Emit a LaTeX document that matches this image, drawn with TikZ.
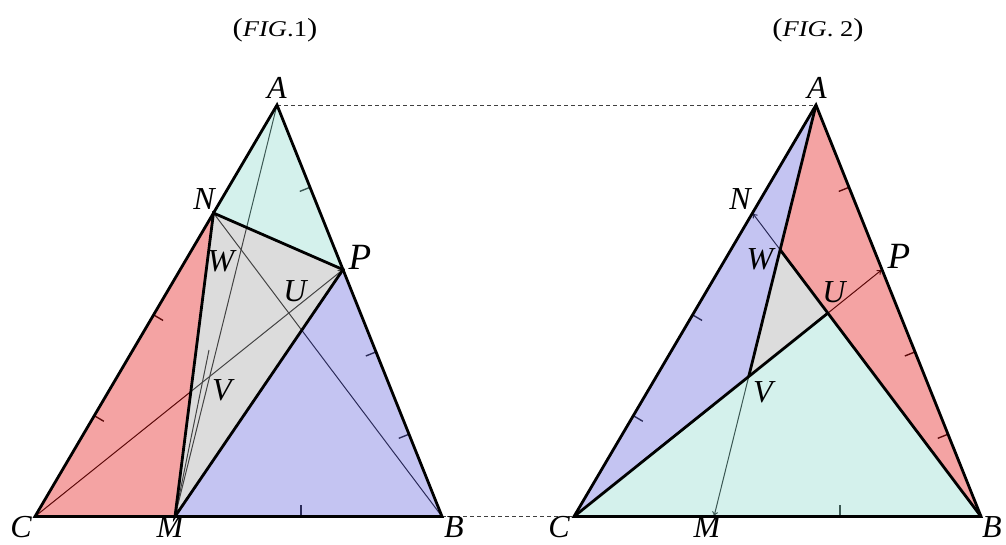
\documentclass[tikz,border=0pt]{standalone}
\usepackage{fontspec}
\setmainfont{Liberation Serif}
\usetikzlibrary{calc,arrows.meta}
\definecolor{redF}{RGB}{228,25,25}
\definecolor{blueF}{RGB}{108,108,223}
\definecolor{cyanF}{RGB}{148,220,208}
\definecolor{grayF}{RGB}{168,168,168}
\newcommand\figlabtext[1]{\scalebox{1.18}[1]{\fontsize{26}{26}\selectfont(\fontsize{22.5}{22.5}\selectfont\textit{FIG}.#1\fontsize{26}{26}\selectfont)}}
\begin{document}
\begin{tikzpicture}[x=1pt,y=-1pt,
  thickl/.style={line width=2.8pt},
  thinl/.style={line width=1pt},
  tickl/.style={line width=1.4pt},
  arr/.style={-{To[length=5pt,width=6pt]}},
  regfill/.style={fill opacity=0.4},
  lab/.style={inner sep=0pt, font=\itshape\fontsize{32}{32}\selectfont},
  labP/.style={inner sep=0pt, font=\itshape\fontsize{37}{37}\selectfont},
  figlab/.style={inner sep=0pt},
  dashl/.style={line width=0.9pt, dash pattern=on 4pt off 3pt, black!75}
]
\useasboundingbox (0,0) rectangle (1006,544);

% ---------- coordinates ----------
\coordinate (A1) at (277,105);
\coordinate (B1) at (442,516.5);
\coordinate (C1) at (35,516.5);
\coordinate (M1) at (175,516.5);
\coordinate (N1) at ($(C1)!0.7375!(A1)$);
\coordinate (P1) at ($(B1)!0.6!(A1)$);
\coordinate (W1) at (intersection of A1--M1 and B1--N1);
\coordinate (U1) at (intersection of B1--N1 and C1--P1);
\coordinate (V1) at (intersection of C1--P1 and A1--M1);
\coordinate (X1) at (209,350);

\coordinate (A2) at (816,105);
\coordinate (B2) at (981,516.5);
\coordinate (C2) at (574,516.5);
\coordinate (M2) at (714,516.5);
\coordinate (N2) at ($(C2)!0.7375!(A2)$);
\coordinate (P2) at ($(B2)!0.6!(A2)$);
\coordinate (W2) at (intersection of A2--M2 and B2--N2);
\coordinate (U2) at (intersection of B2--N2 and C2--P2);
\coordinate (V2) at (intersection of C2--P2 and A2--M2);

% ---------- ticks (under the fills) ----------
\foreach \f/\s in {1/0,2/539}{
  \draw[tickl] ($(C\f)!0.245!(A\f)$) -- ++(9.5,5.6);
  \draw[tickl] ($(C\f)!0.49!(A\f)$) -- ++(9.5,5.6);
  \draw[tickl] ($(B\f)!0.2!(A\f)$) -- ++(-10.2,4.1);
  \draw[tickl] ($(B\f)!0.4!(A\f)$) -- ++(-10.2,4.1);
  \draw[tickl] ($(B\f)!0.8!(A\f)$) -- ++(-10.2,4.1);
  \draw[tickl] (301+\s,516.5) -- ++(0,-12);
}

% ---------- thin lines (under the fills) ----------
\draw[thinl] (A1) -- (M1);
\draw[thinl] (N1) -- (B1);
\draw[thinl,arr] (C1) -- (P1);
\draw[thinl] (M1) -- (X1);

\draw[thinl,arr] (W2) -- (N2);
\draw[thinl,arr] (U2) -- (P2);
\draw[thinl,arr] (V2) -- (M2);

% ---------- fills ----------
\fill[cyanF,regfill] (A1) -- (N1) -- (P1) -- cycle;
\fill[redF,regfill]  (C1) -- (M1) -- (N1) -- cycle;
\fill[blueF,regfill] (B1) -- (P1) -- (M1) -- cycle;
\fill[grayF,regfill] (M1) -- (N1) -- (P1) -- cycle;

\fill[blueF,regfill] (A2) -- (W2) -- (V2) -- (C2) -- cycle;
\fill[redF,regfill]  (A2) -- (B2) -- (U2) -- (W2) -- cycle;
\fill[cyanF,regfill] (C2) -- (B2) -- (U2) -- (V2) -- cycle;
\fill[grayF,regfill] (W2) -- (U2) -- (V2) -- cycle;

% ---------- dashed guides ----------
\draw[dashl] (A1) -- (A2);
\draw[dashl] (B1) -- (C2);

% ---------- thick lines ----------
\draw[thickl] (A1) -- (B1) -- (C1) -- cycle;
\draw[thickl] (M1) -- (N1) -- (P1) -- cycle;

\draw[thickl] (A2) -- (B2) -- (C2) -- cycle;
\draw[thickl] (A2) -- (V2);
\draw[thickl] (B2) -- (W2);
\draw[thickl] (C2) -- (U2);

% ---------- labels ----------
\node[figlab] (f1) at (275,30) {\figlabtext{1}};
\node[figlab] (f2) at (818,30) {\figlabtext{\ 2}};

\node[lab]  (lA1) at (277,87.5) {A};
\node[lab]  (lN1) at (204,199) {N};
\node[labP] (lP1) at (360,257) {P};
\node[lab]  (lW1) at (221,261) {W};
\node[lab]  (lU1) at (295,291) {U};
\node[lab]  (lV1) at (222,390) {V};
\node[lab]  (lC1) at (21,527.5) {C};
\node[lab]  (lM1) at (170,527.5) {M};
\node[lab]  (lB1) at (454,527.5) {B};

\node[lab]  (lA2) at (817,87.5) {A};
\node[lab]  (lN2) at (740,199) {N};
\node[lab]  (lW2) at (760,259) {W};
\node[labP] (lP2) at (899,256) {P};
\node[lab]  (lU2) at (834,292) {U};
\node[lab]  (lV2) at (763,392) {V};
\node[lab]  (lC2) at (559,527.5) {C};
\node[lab]  (lM2) at (707,527.5) {M};
\node[lab]  (lB2) at (992,527.5) {B};
\end{tikzpicture}
\end{document}
